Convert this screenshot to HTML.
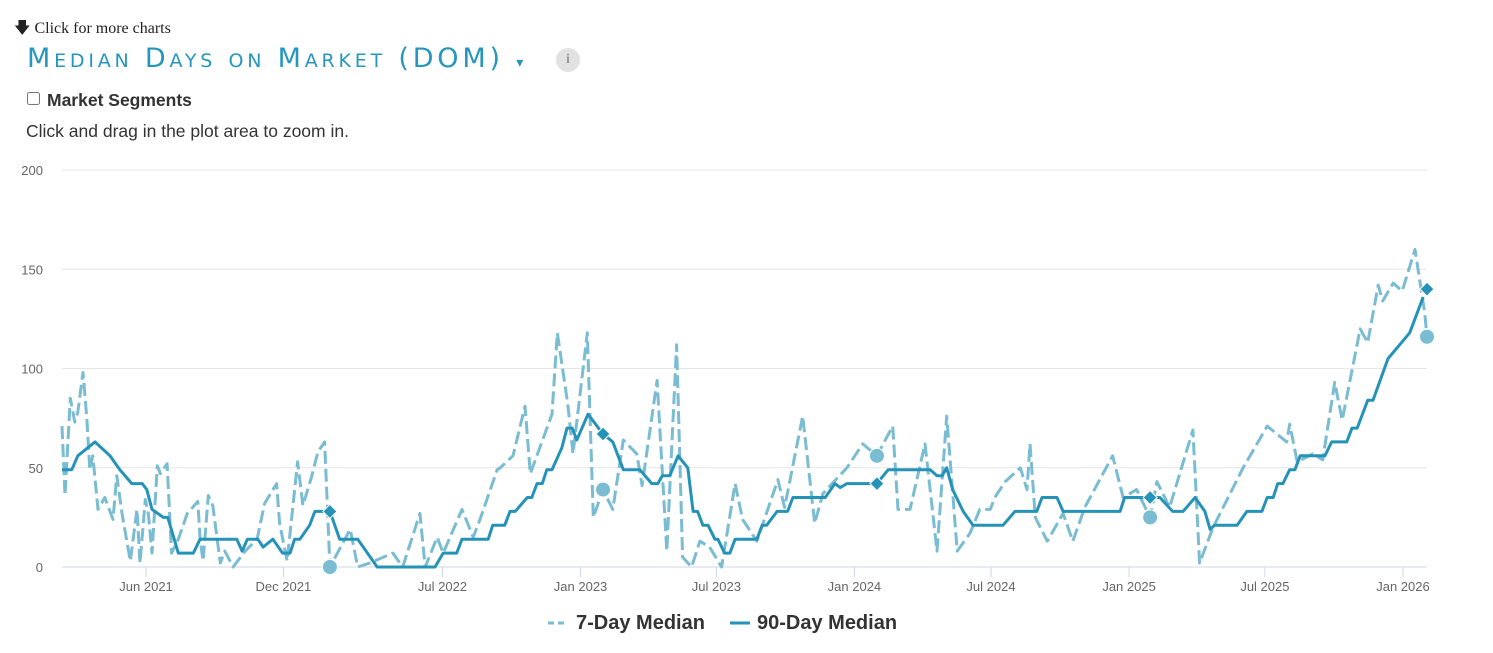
<!DOCTYPE html>
<html><head><meta charset="utf-8">
<style>
body{margin:0;background:#fff;width:1493px;height:653px;overflow:hidden;position:relative;font-family:"Liberation Sans",sans-serif}
.more{position:absolute;left:14px;top:17px;font-family:"Liberation Serif",serif;font-size:16px;color:#222}
.title{position:absolute;left:27px;top:43px;font-size:27px;color:#2596be;font-variant:small-caps;letter-spacing:3.8px;font-family:"DejaVu Sans","Liberation Sans",sans-serif;font-weight:normal;white-space:nowrap}
.info{position:absolute;left:556px;top:48px;width:24px;height:24px;border-radius:50%;background:#e2e2e2;color:#999;font-family:"Liberation Serif",serif;font-size:14px;text-align:center;line-height:24px;font-weight:bold}
.seg{position:absolute;left:26px;top:90px;font-size:17.5px;font-weight:bold;color:#333}
.seg input{margin:0 7px 0 1px;width:13px;height:13px;vertical-align:1px}
.hint{position:absolute;left:26px;top:121px;font-size:17.5px;color:#333}
svg{position:absolute;left:0;top:0}
</style></head><body>
<div class="more">🡇 Click for more charts</div>
<div class="title">Median Days on Market (DOM) <span style="font-size:14px;letter-spacing:0">▾</span></div>
<div class="info">i</div>
<label class="seg"><input type="checkbox">Market Segments</label>
<div class="hint">Click and drag in the plot area to zoom in.</div>
<svg id="chart" width="1493" height="653"></svg>
<script>
// days since 2021-02-09
const d90=[0,13,21,44,64,77,93,107,113,120,135,141,155,175,184,233,240,247,261,268,281,294,304,310,317,330,337,357,370,394,420,497,508,526,533,568,574,590,597,604,620,626,633,640,646,653,666,673,680,686,701,721,734,748,770,786,794,800,810,821,834,841,847,854,861,870,874,883,890,897,926,933,939,953,967,974,1017,1030,1037,1046,1086,1101,1157,1166,1173,1179,1187,1201,1214,1254,1270,1299,1306,1326,1334,1410,1416,1463,1480,1494,1510,1523,1530,1536,1566,1579,1599,1606,1614,1620,1627,1636,1643,1650,1683,1692,1712,1719,1726,1740,1747,1767,1796,1814];
const v90=[49,49,56,63,56,49,42,42,39,29,25,25,7,7,14,14,8,14,14,10,14,7,7,14,14,21,28,28,14,14,0,0,7,7,14,14,21,21,28,28,35,35,42,42,49,49,60,70,70,64,77,67,63,49,49,42,42,46,46,56,50,28,28,21,21,14,14,7,7,14,14,21,21,28,28,35,35,42,40,42,42,49,49,46,46,50,39,28,21,21,28,28,35,35,28,28,35,35,28,28,35,28,19,21,21,28,28,35,35,42,42,49,49,56,56,63,63,70,70,84,84,105,118,136];
const d7=[0,4,11,17,21,28,33,37,41,48,57,68,73,80,91,100,104,111,115,120,127,131,140,146,155,167,181,184,188,195,201,211,217,228,244,260,270,286,290,300,314,321,333,341,350,353,357,384,394,410,441,454,477,484,500,508,533,548,557,580,584,601,617,624,653,660,674,681,700,708,721,734,748,766,773,793,806,819,827,839,850,863,879,897,907,926,954,963,987,1003,1014,1046,1067,1086,1107,1114,1130,1150,1166,1179,1193,1210,1223,1237,1243,1257,1277,1286,1290,1297,1313,1334,1347,1363,1400,1414,1432,1450,1459,1476,1507,1516,1534,1574,1606,1632,1636,1646,1667,1680,1696,1706,1730,1740,1754,1760,1774,1786,1803,1816,1819];
const v7=[71,36,85,73,78,98,75,49,56,29,35,24,46,27,3,29,2,34,27,7,51,47,52,7,14,27,33,14,3,36,31,2,8,0,8,14,32,42,22,3,53,31,46,58,63,36,0,19,0,2,7,0,27,0,15,7,29,15,24,49,50,56,81,47,77,118,82,57,118,25,39,29,64,57,41,94,8,112,5,0,13,10,0,42,24,13,44,30,76,22,37,50,62,56,71,29,29,62,8,76,8,17,29,29,35,43,50,39,62,25,13,27,13,30,56,35,39,25,43,30,69,2,20,50,71,63,72,53,57,54,93,74,120,113,142,134,143,139,160,128,116];
const markDays=[357,721,1086,1450,1819];
const mark90=[28,67,42,35,140];
const mark7=[0,39,56,25,116];
const yTicks=[0,50,100,150,200];
const xTickLabels=["Jun 2021","Dec 2021","Jul 2022","Jan 2023","Jul 2023","Jan 2024","Jul 2024","Jan 2025","Jul 2025","Jan 2026"];
const xTickDates=[[2021,5,1],[2021,11,1],[2022,6,1],[2023,0,1],[2023,6,1],[2024,0,1],[2024,6,1],[2025,0,1],[2025,6,1],[2026,0,1]];

const NS="http://www.w3.org/2000/svg";
const svg=document.getElementById('chart');
const X0=62,X1=1427,Y0=567,Ytop=170,DMAX=1819;
const x=d=>X0+d*(X1-X0)/DMAX;
const y=v=>Y0-v*(Y0-Ytop)/200;
const start=Date.UTC(2021,1,9);
function el(t,a,p){const e=document.createElementNS(NS,t);for(const k in a)e.setAttribute(k,a[k]);(p||svg).appendChild(e);return e;}
yTicks.forEach(t=>{
  const g=el('line',{x1:X0,x2:X1,y1:y(t),y2:y(t),stroke:t===0?'#ccd6eb':'#e6e6e6','stroke-width':1});
  
  
  const l=el('text',{x:43,y:y(t)+5,'text-anchor':'end','font-size':13,fill:'#666','font-family':'Liberation Sans, sans-serif'});
  l.textContent=t;
  
  
});
xTickDates.forEach((dt,i)=>{
  const d=(Date.UTC(dt[0],dt[1],dt[2])-start)/86400000;
  const tk=el('line',{x1:x(d),x2:x(d),y1:Y0,y2:Y0+10,stroke:'#ccd6eb'});
  
  
  const l=el('text',{x:x(d),y:Y0+24,'text-anchor':'middle','font-size':13,fill:'#666','font-family':'Liberation Sans, sans-serif'});
  l.textContent=xTickLabels[i];
  
  
});
const p7=el('path',{d:'M'+d7.map((d,i)=>x(d).toFixed(1)+','+y(v7[i]).toFixed(1)).join('L'),fill:'none',stroke:'#7abcd1','stroke-width':3,'stroke-dasharray':'13,5','stroke-linejoin':'round'});


const p90=el('path',{d:'M'+d90.map((d,i)=>x(d).toFixed(1)+','+y(v90[i]).toFixed(1)).join('L'),fill:'none',stroke:'#2592b8','stroke-width':3,'stroke-linejoin':'round'});


markDays.forEach((d,i)=>{
  const c=el('circle',{cx:x(d),cy:y(mark7[i]),r:7.5,fill:'#7abcd1',stroke:'#fff','stroke-width':1});
  
  
  const cx=x(d),cy=y(mark90[i]);
  const m=el('path',{d:`M${cx},${cy-7}L${cx+7},${cy}L${cx},${cy+7}L${cx-7},${cy}Z`,fill:'#2592b8',stroke:'#fff','stroke-width':1});
  
  
});
// legend
const lg=el('g',{});


const l1=el('line',{x1:548,x2:566,y1:623,y2:623,stroke:'#7abcd1','stroke-width':3,'stroke-dasharray':'6,4'},lg);


const t1=el('text',{x:576,y:629,'font-size':20,'font-weight':'bold',fill:'#333','font-family':'Liberation Sans, sans-serif'},lg);
t1.textContent='7-Day Median';


const l2=el('line',{x1:730,x2:750,y1:623,y2:623,stroke:'#2592b8','stroke-width':3},lg);


const t2=el('text',{x:757,y:629,'font-size':20,'font-weight':'bold',fill:'#333','font-family':'Liberation Sans, sans-serif'},lg);
t2.textContent='90-Day Median';


</script>
</body></html>
